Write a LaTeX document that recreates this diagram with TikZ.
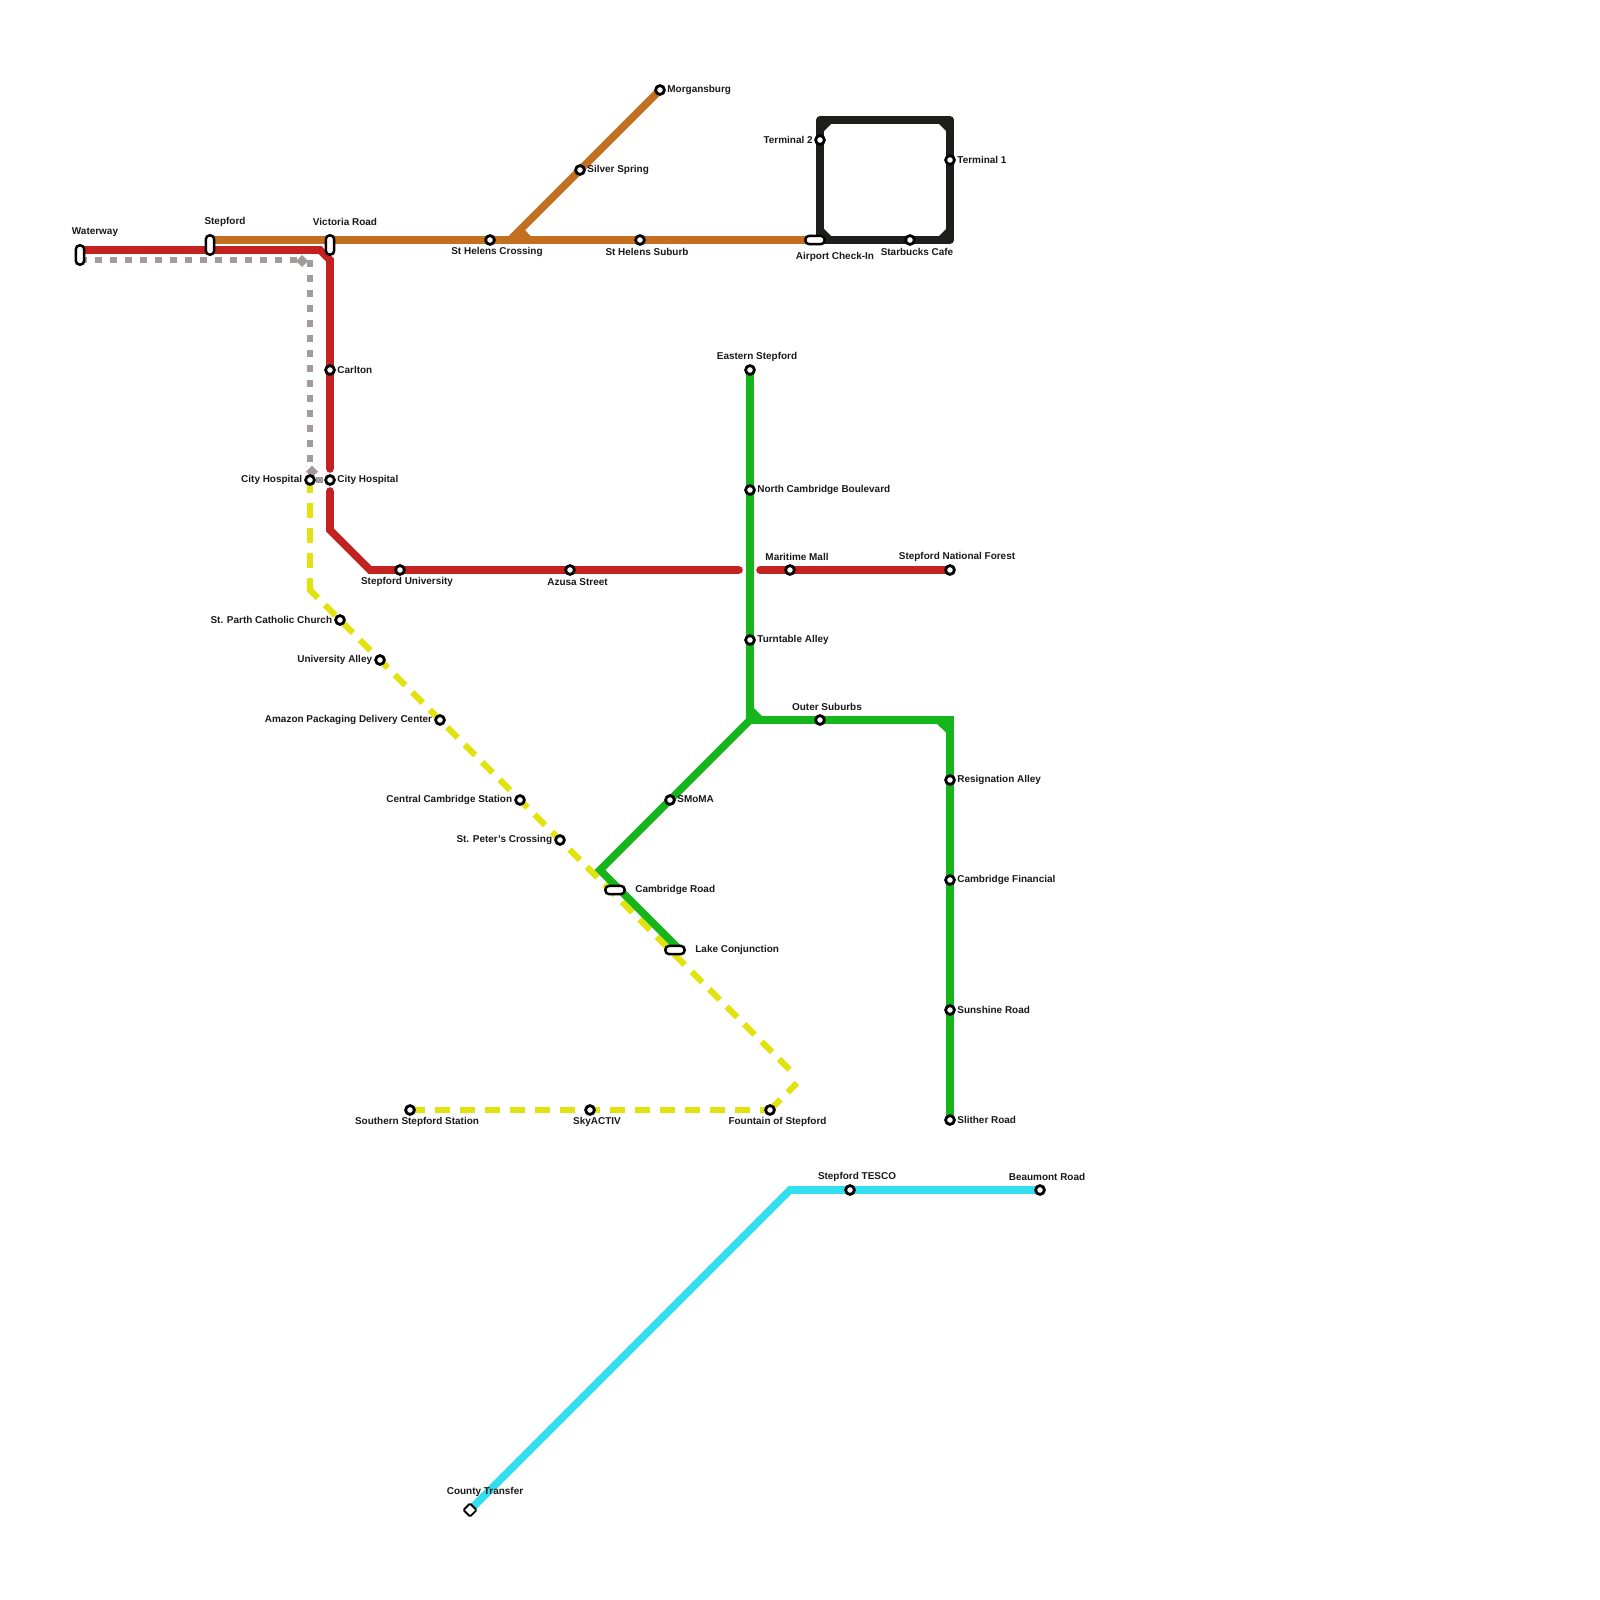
\documentclass[tikz,border=0pt]{standalone}
\usepackage{fontspec}
\setmainfont{Liberation Sans}
\usetikzlibrary{shapes.geometric}
\pgfdeclarelayer{lines}
\pgfsetlayers{lines,main}
\definecolor{cred}{HTML}{C42121}
\definecolor{corange}{HTML}{C27020}
\definecolor{cblack}{HTML}{1E1F1D}
\definecolor{cgreen}{HTML}{16B51B}
\definecolor{ccyan}{HTML}{33DFEE}
\definecolor{cyellow}{HTML}{E2E211}
\definecolor{cgray}{HTML}{A39B9B}
\tikzset{
 st/.style={circle,draw=black,fill=white,line width=1.4pt,minimum size=4.4pt,inner sep=0pt},
 vpill/.style={rectangle,rounded corners=2pt,draw=black,fill=white,line width=1.25pt,minimum width=4.2pt,minimum height=9.7pt,inner sep=0pt},
 hpill/.style={rectangle,rounded corners=2pt,draw=black,fill=white,line width=1.25pt,minimum width=9.7pt,minimum height=4.2pt,inner sep=0pt},
 dia/.style={rectangle,rotate=45,draw=black,fill=white,line width=.9pt,minimum size=4.6pt,inner sep=0pt,rounded corners=.5pt},
 lb/.style={font=\fontsize{4.98pt}{6pt}\selectfont\bfseries,inner sep=0pt,text=black!90,yshift=-.25pt},
 lbl/.style={lb,anchor=west},
 lbr/.style={lb,anchor=east},
 route/.style={line width=3.8pt,line join=miter},
 rnd/.style={route,line cap=round},
 yel/.style={line width=3.1pt,color=cyellow,dash pattern=on 7.5pt off 5pt},
 gry/.style={line width=3.4pt,color=cgray,dash pattern=on 3.5pt off 4pt},
}
\begin{document}
\begin{tikzpicture}[x=0.5pt,y=-0.5pt]
\useasboundingbox (0,0) rectangle (1600,1600);
% way-points
\foreach \n/\x/\y in {ra/320/250,rb/330/260,rc/330/469,rd/330/491,re/330/530,rf/370/570,rg/739/570,rh/760/570,
 oa/210/240,ob/510/240,
 ka/820/120,kb/950/120,kc/950/240,kd/820/240,
 ga/750/720,gb/950/720,gc/600/870,gd/680/950,
 ca/790/1190,
 ya/310/590,yb/797/1083,yd/795/1075,ye/310/585,yf/313/593,
 ha/80/260,hb/297/260,hc/310/260,hd/310/466,he/316/480}
 {\coordinate (\n) at (\x,\y);}
% stations
\node[vpill] (waterway) at (80,255) {};
\node[vpill] (stepford) at (210,245) {};
\node[vpill] (victoria) at (330,245) {};
\node[st] (carlton) at (330,370) {};
\node[st] (cityr) at (330,480) {};
\node[st] (cityl) at (310,480) {};
\node[st] (stepuni) at (400,570) {};
\node[st] (azusa) at (570,570) {};
\node[st] (maritime) at (790,570) {};
\node[st] (forest) at (950,570) {};
\node[st] (crossing) at (490,240) {};
\node[st] (suburb) at (640,240) {};
\node[st] (silver) at (580,170) {};
\node[st] (morgans) at (660,90) {};
\node[hpill] (airport) at (815,240) {};
\node[st] (starbucks) at (910,240) {};
\node[st] (term2) at (820,140) {};
\node[st] (term1) at (950,160) {};
\node[st] (eastern) at (750,370) {};
\node[st] (northc) at (750,490) {};
\node[st] (turntable) at (750,640) {};
\node[st] (outer) at (820,720) {};
\node[st] (resign) at (950,780) {};
\node[st] (financial) at (950,880) {};
\node[st] (sunshine) at (950,1010) {};
\node[st] (slither) at (950,1120) {};
\node[st] (smoma) at (670,800) {};
\node[hpill] (cambroad) at (615,890) {};
\node[hpill] (lake) at (675,950) {};
\node[st] (parth) at (340,620) {};
\node[st] (ualley) at (380,660) {};
\node[st] (amazon) at (440,720) {};
\node[st] (central) at (520,800) {};
\node[st] (peter) at (560,840) {};
\node[st] (fountain) at (770,1110) {};
\node[st] (skyactiv) at (590,1110) {};
\node[st] (southern) at (410,1110) {};
\node[st] (tesco) at (850,1190) {};
\node[st] (beaumont) at (1040,1190) {};
\node[dia] (county) at (470,1510) {};
% labels
\node[lb] (t1) at (95,232) {Waterway};
\node[lb] (t2) at (225,221.5) {Stepford};
\node[lb] (t3) at (345,221.5) {Victoria Road};
\node[lb] (t4) at (497,251.5) {St Helens Crossing};
\node[lb] (t5) at (647,251.5) {St Helens Suburb};
\node[lb] (t6) at (835,256.5) {Airport Check-In};
\node[lb] (t7) at (917,251.5) {Starbucks Cafe};
\node[lbl] (t8) at (667,89) {Morgansburg};
\node[lbl] (t9) at (587,169) {Silver Spring};
\node[lbr] (t10) at (813,139) {Terminal 2};
\node[lbl] (t11) at (957,159) {Terminal 1};
\node[lbl] (t12) at (337,369) {Carlton};
\node[lbl] (t13) at (337,479) {City Hospital};
\node[lbr] (t14) at (302.5,479) {City Hospital};
\node[lb] (t15) at (407,581.5) {Stepford University};
\node[lb] (t16) at (577.5,581.5) {Azusa Street};
\node[lb] (t17) at (797,556.5) {Maritime Mall};
\node[lb] (t18) at (957,556.5) {Stepford National Forest};
\node[lb] (t19) at (757,356.5) {Eastern Stepford};
\node[lbl] (t20) at (757,489) {North Cambridge Boulevard};
\node[lbl] (t21) at (757,639) {Turntable Alley};
\node[lb] (t22) at (827,706.5) {Outer Suburbs};
\node[lbl] (t23) at (957,779) {Resignation Alley};
\node[lbl] (t24) at (957,879) {Cambridge Financial};
\node[lbl] (t25) at (957,1009) {Sunshine Road};
\node[lbl] (t26) at (957,1119) {Slither Road};
\node[lbl] (t27) at (677,799) {SMoMA};
\node[lbl] (t28) at (635,889) {Cambridge Road};
\node[lbl] (t29) at (695,949) {Lake Conjunction};
\node[lbr] (t30) at (332.5,619) {St. Parth Catholic Church};
\node[lbr] (t31) at (372.5,659) {University Alley};
\node[lbr] (t32) at (432.5,719) {Amazon Packaging Delivery Center};
\node[lbr] (t33) at (512.5,799) {Central Cambridge Station};
\node[lbr] (t34) at (552.5,839) {St. Peter's Crossing};
\node[lb] (t35) at (417,1121.5) {Southern Stepford Station};
\node[lb] (t36) at (597,1121.5) {SkyACTIV};
\node[lb] (t37) at (777.5,1121.5) {Fountain of Stepford};
\node[lb] (t38) at (857,1176.5) {Stepford TESCO};
\node[lb] (t39) at (1047,1176.5) {Beaumont Road};
\node[lb] (t40) at (485,1491) {County Transfer};
% connectors
\begin{pgfonlayer}{lines}
% grey
\draw[gry] (ha) -- (hb);
\draw[gry] (hc) -- (hd);
\fill[cgray] (302,255) -- (308,261) -- (302,267) -- (296,261) -- cycle;
\fill[cgray] (312,465.5) -- (318,471.5) -- (312,477.5) -- (306,471.5) -- cycle;
\draw[gry,dash pattern=on 3.5pt off 1pt] (he) -- (cityr.center);
% yellow
\draw[yel,dash phase=1pt] (cityl.center) -- (ya);
\draw[yel,dash pattern=on 7.4pt off 4.95pt,dash phase=1.75pt] (ya) -- (yd);
\draw[yel,solid,line width=3.1pt] (ye) -- (ya) -- (yf);
\draw[yel] (fountain.center) -- (yb);
\draw[yel] (southern.center) -- (fountain.center);
% cyan
\draw[route,ccyan] (county.center) -- (ca) -- (beaumont.center);
% green
\draw[route,cgreen] (eastern.center) -- (ga);
\draw[route,cgreen] (ga) -- (gb) -- (slither.center);
\draw[route,cgreen] (ga) -- (gc) -- (gd);
\fill[cgreen] (750,720) -- (753.8,708) -- (762,716.2) -- cycle;
\fill[cgreen] (936,723) -- (946.5,723) -- (946.5,733) -- cycle;
% red
\draw[rnd,cred] (waterway.center |- ra) -- (ra) -- (rb) -- (rc);
\draw[rnd,cred] (rd) -- (re) -- (rf) -- (rg);
\draw[rnd,cred] (rh) -- (forest.center);
% orange
\draw[route,corange] (oa) -- (airport.center);
\draw[route,corange] (ob) -- (morgans.center);
\fill[corange] (508,240) -- (524,229) -- (531,236.5) -- (531,240) -- cycle;
% black
\draw[route,cblack,line join=round] (ka) -- (kb) -- (kc) -- (kd) -- cycle;
\foreach \a/\c in {823/832,947/938}{\fill[cblack] (\a,123) -- (\c,123) -- (\a,132) -- cycle;}
\foreach \a/\c in {823/832,947/938}{\fill[cblack] (\a,237) -- (\c,237) -- (\a,228) -- cycle;}
\end{pgfonlayer}
\end{tikzpicture}
\end{document}
